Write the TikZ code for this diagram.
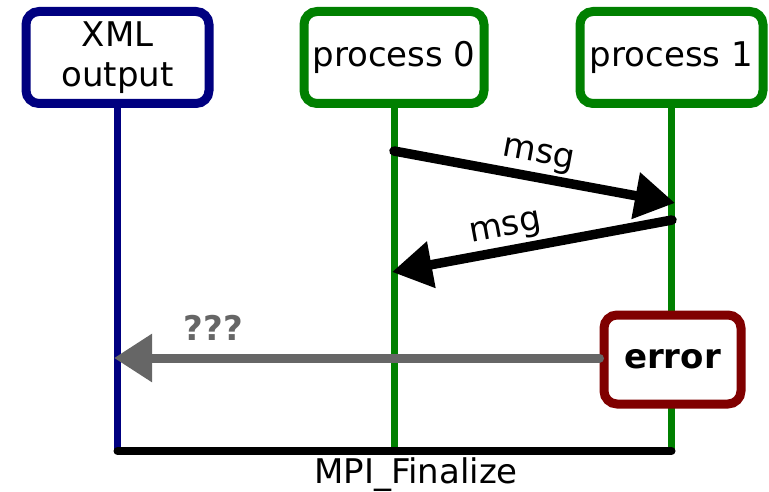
\documentclass[tikz,border=0pt]{standalone}
\usepackage{fontspec}
\setmainfont{DejaVu Sans}
\usetikzlibrary{arrows.meta}
\definecolor{navyc}{RGB}{0,0,128}
\definecolor{greenc}{RGB}{0,128,0}
\definecolor{redc}{RGB}{128,0,0}
\definecolor{grayc}{RGB}{102,102,102}
\begin{document}
\begin{tikzpicture}[x=1pt,y=-1pt,
  every node/.style={font=\fontsize{34}{40}\selectfont},
  box/.style={draw, fill=white, line width=9pt, rounded corners=13pt, align=center, inner sep=0pt},
  lifeline/.style={line width=7pt},
  msgarrow/.style={line width=9.5pt, line cap=round, -{Triangle[length=40pt,width=45pt]}},
  msglabel/.style={sloped, above, inner sep=3pt}
]
\useasboundingbox (0,0) rectangle (769,492);
% heads
\node[box, draw=navyc, minimum width=183pt, minimum height=92pt] (xml) at (117.5,57.5) {XML\\output};
\node[box, draw=greenc, minimum width=180pt, minimum height=92pt] (p0) at (394,57.5) {process 0};
\node[box, draw=greenc, minimum width=183pt, minimum height=92pt] (p1) at (671.5,57.5) {process 1};
% bottom coordinates
\coordinate (xb) at (117.5,451);
\coordinate (p0b) at (394,451);
\coordinate (p1b) at (671.5,451);
% lifelines
\draw[lifeline, navyc] (xml.south) -- (xb);
\draw[lifeline, greenc] (p0.south) -- (p0b);
\draw[lifeline, greenc] (p1.south) -- (p1b);
% finalize bar
\draw[line width=8pt, line cap=round] (xb) -- (p1b);
\node (fin) at (416,475) {MPI\_Finalize};
% messages
\coordinate (m1s) at (394,151);
\coordinate (m1e) at (675,203);
\coordinate (m2s) at (672,220);
\coordinate (m2e) at (392,272);
\draw[msgarrow] (m1s) -- node[msglabel] {msg} (m1e);
\draw[msgarrow] (m2s) -- node[msglabel, pos=0.58] {msg} (m2e);
% error
\node[box, draw=redc, minimum width=137pt, minimum height=89pt, font=\fontsize{34}{40}\selectfont\bfseries] (err) at (672.5,359.5) {error};
\coordinate (xe) at (114,358);
\draw[line width=9pt, line cap=round, grayc, -{Triangle[length=38pt,width=46pt]}] (err.west |- xe) -- node[pos=0.795, above=10pt, font=\fontsize{34}{40}\selectfont\bfseries, text=grayc] (q) {???} (xe);
\end{tikzpicture}
\end{document}
